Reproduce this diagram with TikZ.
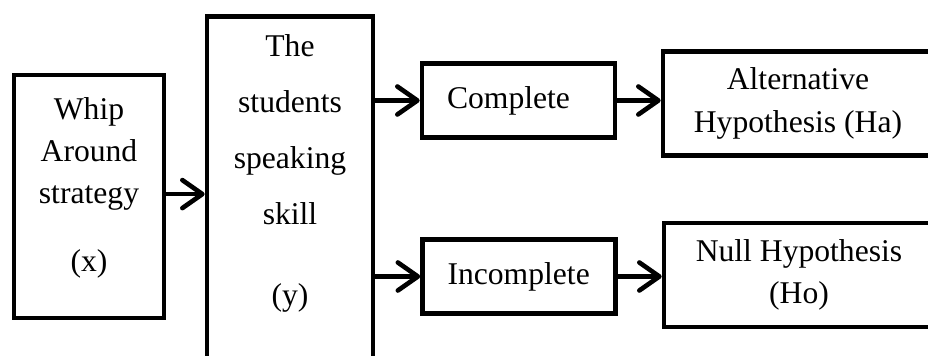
\documentclass[tikz,border=0pt]{standalone}
\usepackage{fontspec}
\setmainfont{Liberation Serif}
\usetikzlibrary{
	arrows.meta,
	positioning
}

\begin{document}
\begin{tikzpicture}[
			font=\fontsize{22.5}{30}\selectfont,
			box/.style={
					draw,
					line width=3.3pt,
					align=center
				},
			shortbox/.style={
					box,
					minimum width=4.825cm,
					minimum height=1.85cm,
					text width=3.575cm,
					inner xsep=0.625cm,
					align=left
				},
			hypbox/.style={
					box,
					minimum width=6.75cm,
					minimum height=2.6cm
				},
			flow/.style={
					line width=3.3pt,
					-{Straight Barb[round, length=5mm, width=7mm]}
				}
		]
		\useasboundingbox (0,0) rectangle (23.2,8.9);
		\clip (0,0) rectangle (23.2,8.9);

		% variables
		\node[box, minimum width=3.75cm, minimum height=6.075cm] (whip) at (2.225,3.9875) {};
		\node[align=center, inner sep=0pt] (whiptext) at ([yshift=0.22cm]whip.center) {Whip\\ Around\\ strategy\\[0.625cm] (x)};
		\node[box, minimum width=4.15cm, minimum height=9cm, anchor=north] (skill) at (7.25,8.55) {};
		\node[align=center, inner sep=0pt, below=0.5cm of skill.north,
			font=\fontsize{22.5}{39.8}\selectfont] (skilltext) {The\\ students\\ speaking\\ skill\\[0.625cm] (y)};

		% results
		\node[shortbox] (complete) at (12.9625,6.3875) {Complete};
		\node[shortbox] (incomplete) at (12.975,1.9875) {Incomplete};
		\node[hypbox] (althyp) at (19.95,6.3125) {Alternative\\ Hypothesis (Ha)};
		\node[hypbox] (nullhyp) at (19.975,2.025) {Null Hypothesis\\ (Ho)};

		\draw[flow] ([yshift=0.06cm]whip.east) -- ([yshift=0.06cm]whip.east -| skill.west);
		\draw[flow] (skill.east |- complete.west) -- (complete.west);
		\draw[flow] (skill.east |- incomplete.west) -- (incomplete.west);
		\draw[flow] (complete.east) -- (complete.east -| althyp.west);
		\draw[flow] (incomplete.east) -- (incomplete.east -| nullhyp.west);
	\end{tikzpicture}
\end{document}
